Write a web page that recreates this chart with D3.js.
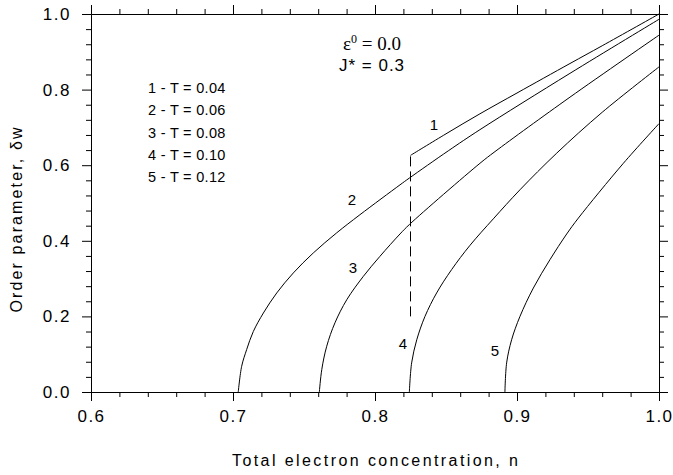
<!DOCTYPE html>
<html><head><meta charset="utf-8">
<script src="https://cdn.jsdelivr.net/npm/d3@7"></script>
<style>
body{margin:0;background:#fff;}
svg{display:block;font-family:"Liberation Sans",Arial,sans-serif;}
</style></head>
<body><svg id="c" width="673" height="475"></svg>
<script>
// ---- data ----
const xTicks = [0.6, 0.7, 0.8, 0.9, 1.0];
const yTicks = [0.0, 0.2, 0.4, 0.6, 0.8, 1.0];
const legendLines = ["1 - T = 0.04", "2 - T = 0.06", "3 - T = 0.08", "4 - T = 0.10", "5 - T = 0.12"];

const n1 = [0.825, 0.85, 0.8739, 0.9, 0.9373, 0.96, 1.0];
const v1 = [0.626, 0.683, 0.736, 0.791, 0.869, 0.916, 1.0];

const n2 = [0.7037, 0.7061, 0.7096, 0.7143, 0.7214, 0.7308, 0.7425, 0.7566, 0.773, 0.7894, 0.8176, 0.8242, 0.8516, 0.8739, 0.9373, 1.0];
const v2 = [0, 0.068, 0.112, 0.160, 0.209, 0.262, 0.315, 0.368, 0.421, 0.469, 0.548, 0.566, 0.638, 0.694, 0.843, 0.986];

const n3 = [0.7608, 0.7625, 0.766, 0.7718, 0.7801, 0.7918, 0.8035, 0.8176, 0.8242, 0.8739, 0.8845, 0.9373, 1.0];
const v3 = [0, 0.059, 0.121, 0.183, 0.244, 0.306, 0.359, 0.418, 0.443, 0.605, 0.636, 0.78, 0.944];

const n4 = [0.8242, 0.8258, 0.8294, 0.8352, 0.8434, 0.854, 0.8669, 0.8833, 0.9021, 0.928, 0.96, 1.0];
const v4 = [0, 0.077, 0.138, 0.2, 0.262, 0.324, 0.388, 0.458, 0.535, 0.632, 0.74, 0.860];

const n5 = [0.8915, 0.8927, 0.8962, 0.9021, 0.9115, 0.9232, 0.935, 0.9432, 0.9749, 1.0];
const v5 = [0, 0.077, 0.138, 0.2, 0.275, 0.35, 0.418, 0.46, 0.605, 0.71];

const dashN = [0.825, 0.825];
const dashV = [0.2, 0.626];

const curveLabels = ["1", "2", "3", "4", "5"];
const curveLabelN = [0.8415, 0.7837, 0.7844, 0.8197, 0.8845];
const curveLabelV = [0.707, 0.507, 0.328, 0.128, 0.109];

// ---- layout ----
const W = 673, H = 475;
const m = {left: 91, top: 14, right: 14, bottom: 83};
const svg = d3.select("#c");
const x = d3.scaleLinear().domain([0.6, 1.0]).range([m.left, W - m.right]);
const y = d3.scaleLinear().domain([0, 1.0]).range([H - m.bottom, m.top]);

const xMinor = d3.range(0.6, 1.0001, 0.02).filter(v => Math.abs(v*10 - Math.round(v*10)) > 1e-6);
const yMinor = d3.range(0, 1.0001, 0.04).filter(v => Math.abs(v*5 - Math.round(v*5)) > 1e-6);

const maj = 9, mnr = 5;
function styleAxis(g){
  g.selectAll("path.domain").attr("stroke", "#000").attr("stroke-width", 1);
  g.selectAll("line").attr("stroke", "#000").attr("stroke-width", 1);
}
function styleLabels(g){
  g.selectAll("text").attr("font-size", 17).attr("fill", "#000")
    .attr("font-family", "Liberation Sans, Arial, sans-serif").style("letter-spacing", "1.5px");
}
// bottom
svg.append("g").attr("transform", `translate(0,${y(0)})`)
  .call(d3.axisBottom(x).tickValues(xTicks).tickFormat(d3.format(".1f")).tickSize(maj).tickSizeOuter(0).tickPadding(9))
  .call(styleAxis).call(styleLabels);
svg.append("g").attr("transform", `translate(0,${y(0)})`)
  .call(d3.axisBottom(x).tickValues(xMinor).tickFormat("").tickSize(mnr).tickSizeOuter(0)).call(styleAxis);
// top
svg.append("g").attr("transform", `translate(0,${y(1)})`)
  .call(d3.axisTop(x).tickValues(xTicks).tickFormat("").tickSize(maj).tickSizeOuter(0)).call(styleAxis);
svg.append("g").attr("transform", `translate(0,${y(1)})`)
  .call(d3.axisTop(x).tickValues(xMinor).tickFormat("").tickSize(mnr).tickSizeOuter(0)).call(styleAxis);
// left
svg.append("g").attr("transform", `translate(${x(0.6)},0)`)
  .call(d3.axisLeft(y).tickValues(yTicks).tickFormat(d3.format(".1f")).tickSize(maj).tickSizeOuter(0).tickPadding(11))
  .call(styleAxis).call(styleLabels);
svg.append("g").attr("transform", `translate(${x(0.6)},0)`)
  .call(d3.axisLeft(y).tickValues(yMinor).tickFormat("").tickSize(mnr).tickSizeOuter(0)).call(styleAxis);
// right
svg.append("g").attr("transform", `translate(${x(1.0)},0)`)
  .call(d3.axisRight(y).tickValues(yTicks).tickFormat("").tickSize(maj).tickSizeOuter(0)).call(styleAxis);
svg.append("g").attr("transform", `translate(${x(1.0)},0)`)
  .call(d3.axisRight(y).tickValues(yMinor).tickFormat("").tickSize(mnr).tickSizeOuter(0)).call(styleAxis);

// curves
const line = d3.line().x(d => x(d[0])).y(d => y(d[1])).curve(d3.curveCatmullRom.alpha(0.5));
const series = [[n1, v1], [n2, v2], [n3, v3], [n4, v4], [n5, v5]];
series.forEach(([ns, vs]) => {
  svg.append("path").datum(ns.map((n, i) => [n, vs[i]]))
    .attr("d", line).attr("fill", "none").attr("stroke", "#000").attr("stroke-width", 1);
});
svg.append("path").datum(dashN.map((n, i) => [n, dashV[i]]))
  .attr("d", d3.line().x(d => x(d[0])).y(d => y(d[1])))
  .attr("fill", "none").attr("stroke", "#000").attr("stroke-width", 1).attr("stroke-dasharray", "10,5");

// curve labels
curveLabels.forEach((t, i) => {
  svg.append("text").attr("x", x(curveLabelN[i])).attr("y", y(curveLabelV[i]) + 5)
    .attr("text-anchor", "middle").attr("font-size", 15).text(t);
});

// legend
legendLines.forEach((t, i) => {
  svg.append("text").attr("x", 148).attr("y", 93 + i * 22.3)
    .attr("font-size", 14.5).style("letter-spacing", "0.3px").text(t);
});

// annotations
const eps = svg.append("text").attr("x", 372).attr("y", 50).attr("text-anchor", "middle")
  .attr("font-family", "Liberation Serif, Times New Roman, serif").attr("font-size", 19);
eps.append("tspan").text("ε");
eps.append("tspan").attr("dy", -7).attr("font-size", 12).text("0");
eps.append("tspan").attr("dy", 7).text(" = 0.0");
svg.append("text").attr("x", 372).attr("y", 71).attr("text-anchor", "middle")
  .attr("font-size", 17).style("letter-spacing", "1px").text("J* = 0.3");

// axis titles
svg.append("text").attr("x", 375).attr("y", 466).attr("text-anchor", "middle")
  .attr("font-size", 16).attr("textLength", 286).attr("lengthAdjust", "spacing")
  .text("Total electron concentration, n");
svg.append("text").attr("transform", "translate(22,220) rotate(-90)").attr("text-anchor", "middle")
  .attr("font-size", 16).attr("textLength", 185).attr("lengthAdjust", "spacing")
  .text("Order parameter, δw");
</script></body></html>
